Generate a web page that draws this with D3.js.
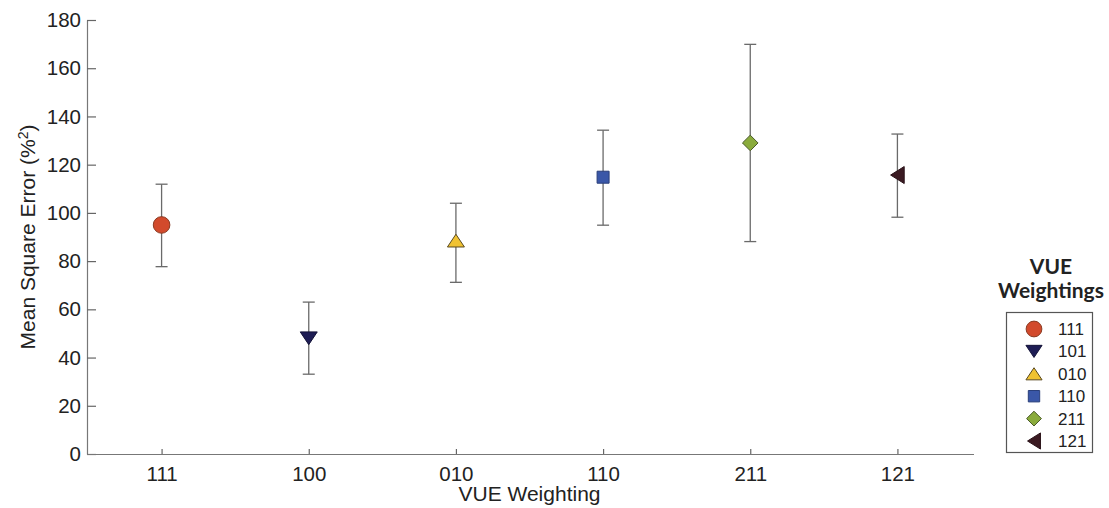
<!DOCTYPE html>
<html>
<head>
<meta charset="utf-8">
<script src="https://cdn.jsdelivr.net/npm/d3@7"></script>
<style>
  html, body { margin: 0; padding: 0; background: #fff; }
  svg { display: block; }
  text { font-family: "Liberation Sans", Arial, sans-serif; fill: #222; }
</style>
</head>
<body>
<svg id="chart" width="1109" height="508"></svg>
<script>
// Mean square error per VUE weighting, with error bar bounds
const categories = ["111", "100", "010", "110", "211", "121"];
const legendLabels = ["111", "101", "010", "110", "211", "121"];
const meanValues = [95.0, 48.0, 88.5, 114.8, 129.0, 115.7];
const upperValues = [111.9, 63.0, 104.0, 134.3, 169.9, 132.7];
const lowerValues = [77.7, 33.1, 71.2, 94.9, 88.1, 98.2];
const yTicks = [0, 20, 40, 60, 80, 100, 120, 140, 160, 180];

const markerShapes = ["circle", "triDown", "triUp", "square", "diamond", "triLeft"];
const markerFills = ["#d24a2c", "#1e1d55", "#f0c232", "#3a57a8", "#8aab3c", "#3b1a22"];
const markerStrokes = ["#8a3a22", "#141338", "#5a4a20", "#2a3f7a", "#4a5a2a", "#2a1218"];

const FONT = "'Liberation Sans', Arial, sans-serif";
const svg = d3.select("#chart");

const x = d3.scaleLinear().domain([0.5, 6.5]).range([88, 971]);
const y = d3.scaleLinear().domain([0, 180]).range([454, 20]);

// Marker path generators, centred on the origin
function markerPath(shape, s) {
  switch (shape) {
    case "circle":
      return d3.symbol(d3.symbolCircle, Math.PI * s * s)();
    case "square":
      return `M${-s},${-s}H${s}V${s}H${-s}Z`;
    case "diamond":
      return `M0,${-s}L${s},0L0,${s}L${-s},0Z`;
    case "triDown":
      return `M${-s},${-s * 0.75}L${s},${-s * 0.75}L0,${s * 0.75}Z`;
    case "triUp":
      return `M${-s},${s * 0.75}L${s},${s * 0.75}L0,${-s * 0.75}Z`;
    case "triLeft":
      return `M${s * 0.8},${-s}L${s * 0.8},${s}L${-s * 0.8},0Z`;
  }
}
const markerSize = [8.3, 8.5, 8.5, 6, 7.8, 8.5];

// Y axis with inward ticks
const yAxis = svg.append("g")
  .attr("transform", `translate(${x.range()[0] - 1},0)`)
  .call(d3.axisLeft(y).tickValues(yTicks).tickSize(-9).tickPadding(6).tickSizeOuter(0));
yAxis.select(".domain").attr("stroke", "#777").attr("stroke-width", 1.2);
yAxis.selectAll(".tick line").attr("stroke", "#666").attr("stroke-width", 1.2);
yAxis.selectAll(".tick text")
  .attr("x", -6)
  .style("font-size", "20.5px")
  .style("font-family", FONT)
  .attr("fill", "#222");

// X axis with short upward ticks at each category
const xAxis = svg.append("g")
  .attr("transform", `translate(0,${y(0)})`)
  .call(d3.axisBottom(x)
    .tickValues(d3.range(1, categories.length + 1))
    .tickFormat(d => categories[d - 1])
    .tickSize(-5).tickPadding(12).tickSizeOuter(0));
xAxis.select(".domain")
  .attr("d", `M${x.range()[0] - 1},0.5H${x.range()[1] + 3}`)
  .attr("stroke", "#777").attr("stroke-width", 1.2);
xAxis.selectAll(".tick line").attr("stroke", "#666").attr("stroke-width", 1.2);
xAxis.selectAll(".tick text")
  .style("font-size", "20.5px")
  .style("font-family", FONT)
  .attr("fill", "#222");

// Axis titles
svg.append("text")
  .attr("x", (x.range()[0] + x.range()[1]) / 2)
  .attr("y", 501)
  .attr("text-anchor", "middle")
  .style("font-family", FONT)
  .style("font-size", "21px")
  .text("VUE Weighting");

const yTitle = svg.append("text")
  .attr("transform", `translate(35,${(y(0) + y(180)) / 2}) rotate(-90)`)
  .attr("text-anchor", "middle")
  .style("font-family", FONT)
  .style("font-size", "21px");
yTitle.append("tspan").text("Mean Square Error (%");
yTitle.append("tspan").attr("dy", -7).style("font-size", "14px").text("2");
yTitle.append("tspan").attr("dy", 7).text(")");

// Error bars
const idx = d3.range(categories.length);
const bars = svg.append("g").attr("stroke", "#6a6a6a").attr("stroke-width", 1.3).attr("fill", "none");
bars.selectAll("line.v").data(idx).join("line")
  .attr("class", "v")
  .attr("x1", i => x(i + 1)).attr("x2", i => x(i + 1))
  .attr("y1", i => y(upperValues[i])).attr("y2", i => y(lowerValues[i]));
bars.selectAll("line.top").data(idx).join("line")
  .attr("class", "top")
  .attr("x1", i => x(i + 1) - 6).attr("x2", i => x(i + 1) + 6)
  .attr("y1", i => y(upperValues[i])).attr("y2", i => y(upperValues[i]));
bars.selectAll("line.bot").data(idx).join("line")
  .attr("class", "bot")
  .attr("x1", i => x(i + 1) - 6).attr("x2", i => x(i + 1) + 6)
  .attr("y1", i => y(lowerValues[i])).attr("y2", i => y(lowerValues[i]));

// Mean markers
svg.append("g").selectAll("path").data(idx).join("path")
  .attr("transform", i => `translate(${x(i + 1)},${y(meanValues[i])})`)
  .attr("d", i => markerPath(markerShapes[i], markerSize[i]))
  .attr("fill", i => markerFills[i])
  .attr("stroke", i => markerStrokes[i])
  .attr("stroke-width", 1);

// Legend
const legend = svg.append("g");
legend.append("text")
  .attr("x", 1051).attr("y", 274)
  .attr("text-anchor", "middle")
  .style("font-family", "Lato, 'Open Sans', sans-serif")
  .style("font-weight", "bold")
  .style("font-size", "21px")
  .attr("fill", "#1a1a1a")
  .text("VUE");
legend.append("text")
  .attr("x", 1051).attr("y", 298)
  .attr("text-anchor", "middle")
  .style("font-family", "Lato, 'Open Sans', sans-serif")
  .style("font-weight", "bold")
  .style("font-size", "21px")
  .attr("fill", "#1a1a1a")
  .text("Weightings");
legend.append("rect")
  .attr("x", 1006.5).attr("y", 312.5)
  .attr("width", 86).attr("height", 140)
  .attr("fill", "#fff").attr("stroke", "#555").attr("stroke-width", 1.2);
const rowY = i => 329 + i * 22.4;
legend.selectAll("path").data(idx).join("path")
  .attr("transform", i => `translate(1034,${rowY(i)})`)
  .attr("d", i => markerPath(markerShapes[i], markerSize[i] * 0.95))
  .attr("fill", i => markerFills[i])
  .attr("stroke", i => markerStrokes[i])
  .attr("stroke-width", 1);
legend.selectAll("text.lab").data(idx).join("text")
  .attr("class", "lab")
  .attr("x", 1058).attr("y", i => rowY(i) + 6)
  .style("font-family", FONT)
  .style("font-size", "17px")
  .text(i => legendLabels[i]);
</script>
</body>
</html>
